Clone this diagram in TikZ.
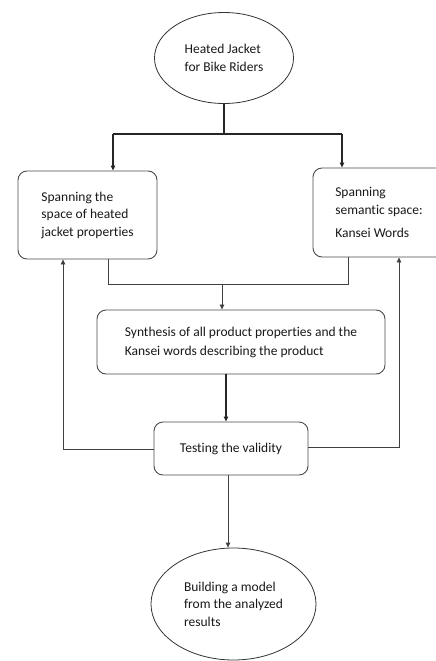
\documentclass[tikz,border=0pt]{standalone}
\usepackage{fontspec}
\setmainfont[Ligatures=NoCommon]{Carlito}
\usetikzlibrary{arrows.meta,shapes.geometric}
\begin{document}
\begin{tikzpicture}[x=1pt,y=-1pt,
  every node/.style={font=\fontsize{13.5}{17.5}\selectfont, text=black!90},
  box/.style={draw=black!70, line width=0.9pt, rounded corners=9pt, inner sep=0pt, align=left},
  oval/.style={draw=black!80, line width=0.8pt, ellipse, inner sep=0pt, align=left},
  conn/.style={draw=black!75, line width=0.8pt},
  thick conn/.style={draw=black!85, line width=1.2pt},
  arr/.style={-{Triangle[length=5pt,width=4.5pt]}}]
\useasboundingbox (0,0) rectangle (436,661);
\clip (0,0) rectangle (436,661);
\fill[white] (0,0) rectangle (436,661);

% nodes
\node[oval, minimum width=139pt, minimum height=91pt] (top) at (224,58)
  {Heated Jacket\\for Bike Riders};
\node[box, minimum width=139pt, minimum height=88pt] (left) at (87.5,215)
  {Spanning the\\space of heated\\jacket properties};
\node[box, minimum width=132pt, minimum height=89pt] (right) at (379,212.5)
  {Spanning\\semantic space:\\[6pt]Kansei Words};
\node[box, minimum width=288pt, minimum height=64pt, font=\fontsize{13.5}{19}\selectfont] (synth) at (241,342)
  {Synthesis of all product properties and the\\Kansei words describing the product};
\node[box, minimum width=154pt, minimum height=53pt] (test) at (231,448.5)
  {Testing the validity};
\node[oval, minimum width=165pt, minimum height=112pt] (model) at (233.5,604)
  {Building a model\\from the analyzed\\results};

% split from the top ellipse
\coordinate (s1) at (224,134);
\coordinate (sL) at (113,134);
\coordinate (sR) at (342,134);
\draw[thick conn] (top.south) -- (s1);
\draw[thick conn] (sL) -- (sR);
\draw[thick conn, arr] (sL) -- (sL |- left.north);
\draw[thick conn, arr] (sR) -- (sR |- right.north);

% merge into synthesis
\coordinate (mL) at (108,284);
\coordinate (mR) at (348,284);
\coordinate (m1) at (222,284);
\draw[conn] (mL |- left.south) -- (mL) -- (mR) -- (mR |- right.south);
\draw[conn, arr] (m1) -- (m1 |- synth.north);

% synthesis -> testing
\coordinate (t1) at (226,374);
\draw[thick conn, arr] (t1 |- synth.south) -- (t1 |- test.north);

% feedback loops
\coordinate (fL) at (63,449);
\coordinate (fR) at (399,447);
\draw[conn, arr] (test.west |- fL) -- (fL) -- (fL |- left.south);
\draw[conn, arr] (test.east |- fR) -- (fR) -- (fR |- right.south);

% testing -> model
\coordinate (b1) at (228,475);
\draw[conn, arr] (b1 |- test.south) -- (b1 |- model.north);
\end{tikzpicture}
\end{document}
